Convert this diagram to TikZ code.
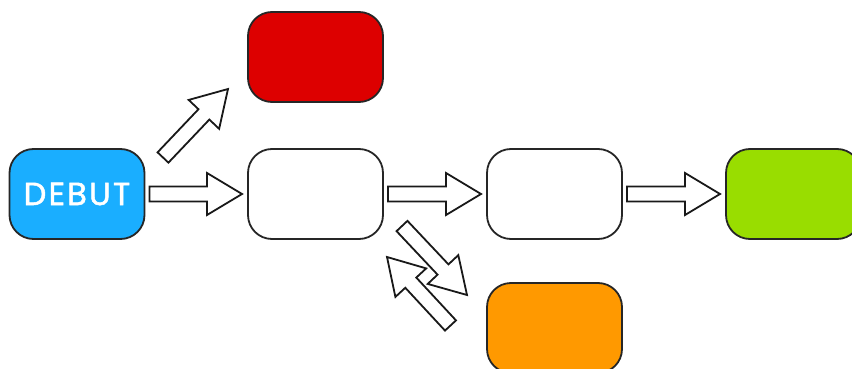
\documentclass[tikz,border=0pt]{standalone}
\usepackage{fontspec}
\newfontfamily\debutfont{Poppins}[LetterSpace=7,FakeBold=1.6]
\usetikzlibrary{calc}
\definecolor{cblue}{RGB}{26,174,255}
\definecolor{cred}{RGB}{221,0,0}
\definecolor{cgreen}{RGB}{153,221,0}
\definecolor{corange}{RGB}{255,153,0}
\newcommand\bsw{7.5pt}
\newcommand\bhw{21pt}
\newcommand\bhl{35pt}
\newcommand\blockarrow[2]{%
  \coordinate (ba-h) at ($(#2)!\bhl!(#1)$);
  \draw[barrow] ($(#1)!\bsw!90:(#2)$) -- ($(ba-h)!\bsw!-90:(#1)$) -- ($(ba-h)!\bhw!-90:(#1)$) -- (#2)
    -- ($(ba-h)!\bhw!90:(#1)$) -- ($(ba-h)!\bsw!90:(#1)$) -- ($(#1)!\bsw!-90:(#2)$) -- cycle;
}
\tikzset{
  box/.style={draw=black!85, line width=1.8pt, rounded corners=24pt, minimum width=135pt, minimum height=90pt, inner sep=0pt, outer sep=0pt},
  barrow/.style={draw=black!90, fill=white, line width=1.8pt, line join=miter},
}
\begin{document}
\begin{tikzpicture}[x=1pt,y=-1pt]
\useasboundingbox (0,0) rectangle (852,369);
\node[box, fill=cblue, text=white, font=\debutfont\fontsize{32}{32}\selectfont] (debut) at (77,194) {DEBUT};
\node[box, fill=cred] (red) at (315.5,57) {};
\node[box, fill=white] (w1) at (315.5,194) {};
\node[box, fill=white] (w2) at (554.5,194) {};
\node[box, fill=cgreen] (green) at (793.5,194) {};
\node[box, fill=corange] (orange) at (554.5,328) {};
% arrow end points
\coordinate (a1s) at ($(debut.east)+(5,0)$);
\coordinate (a1e) at ($(w1.west)+(-6,0)$);
\coordinate (a2s) at ($(w1.east)+(5,0)$);
\coordinate (a2e) at ($(w2.west)+(-6,0)$);
\coordinate (a3s) at ($(w2.east)+(5,0)$);
\coordinate (a3e) at ($(green.west)+(-6,0)$);
\coordinate (a4s) at (163,157.5);
\coordinate (a4e) at (228,89);
\coordinate (a5s) at (402,226);
\coordinate (a5e) at (467,295);
\coordinate (a6s) at (450.5,325.5);
\coordinate (a6e) at (387,257);
\blockarrow{a1s}{a1e}
\blockarrow{a2s}{a2e}
\blockarrow{a3s}{a3e}
\blockarrow{a4s}{a4e}
\blockarrow{a5s}{a5e}
\blockarrow{a6s}{a6e}
\end{tikzpicture}
\end{document}
